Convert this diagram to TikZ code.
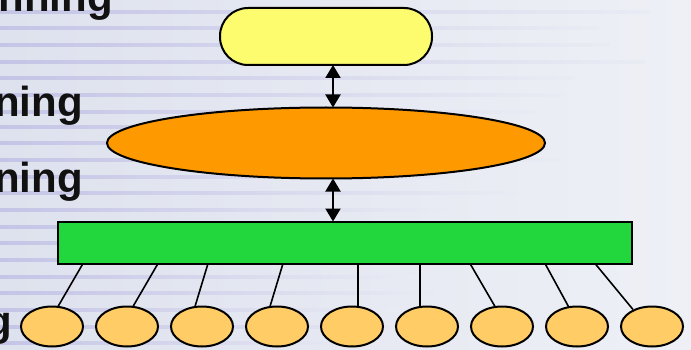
\documentclass[tikz,border=0pt]{standalone}
\usepackage{fontspec}
\setmainfont{Liberation Sans}
\usetikzlibrary{arrows.meta}
\definecolor{bgL}{RGB}{222,226,238}
\definecolor{bgR}{RGB}{238,240,246}
\definecolor{stripe}{RGB}{196,196,230}
\definecolor{yelfill}{RGB}{252,252,110}
\definecolor{orafill}{RGB}{255,153,0}
\definecolor{grnfill}{RGB}{34,214,61}
\definecolor{leaffill}{RGB}{255,204,102}
\definecolor{txt}{RGB}{17,17,17}
\tikzset{
  box/.style={draw=black, line width=2pt, inner sep=0pt, outer sep=0pt},
  yelbox/.style={box, fill=yelfill, rounded corners=28pt, minimum width=212pt, minimum height=57pt},
  midell/.style={box, ellipse, fill=orafill, minimum width=438pt, minimum height=71pt},
  barbox/.style={box, fill=grnfill, minimum width=574pt, minimum height=42pt},
  leaf/.style={box, ellipse, fill=leaffill, minimum width=62pt, minimum height=40pt},
  dblarrow/.style={line width=2pt, {Triangle[length=13pt,width=15pt]}-{Triangle[length=13pt,width=15pt]}},
  leg/.style={line width=1.6pt},
  lbl/.style={anchor=base east, inner sep=0pt, text=txt, font=\fontsize{42}{50}\selectfont\bfseries}
}
\usetikzlibrary{shapes.geometric}
\begin{document}
\begin{tikzpicture}[x=1pt,y=-1pt]
\useasboundingbox (0,0) rectangle (691,350);
\begin{scope}
\clip (0,0) rectangle (691,350);
\shade[left color=bgL, right color=bgR] (0,0) rectangle (691,350);
\foreach \yy/\ll in {12/650,28/600,45/610,62/645,78/575,95/565,112/540,127/520,143/500,160/560,177/480,193/520,210/460,227/500,243/430,260/470,277/420,293/450,310/400,327/430,343/380}{
  \shade[left color=stripe, right color=bgR!70!bgL] (0,\yy-1.3) rectangle (\ll,\yy+1.3);
}
\node[lbl] (t1) at (113,12) {nning};
\node[lbl] (t2) at (83,117) {ning};
\node[lbl] (t3) at (83,193) {ning};
\node[lbl] (t4) at (12,335) {g};
\end{scope}

\node[yelbox] (top) at (326,36.5) {};
\node[midell] (mid) at (326,143) {};
\node[barbox] (bar) at (345,242.5) {};
\foreach \i in {1,...,9}{
  \node[leaf] (e\i) at ({52+75*(\i-1)},326.5) {};
}

\draw[dblarrow] ([xshift=7pt]top.south) -- ([xshift=7pt]mid.north);
\draw[dblarrow] ([xshift=7pt]mid.south) -- ([xshift=-12pt]bar.north);

\draw[leg] ([xshift=-262pt]bar.south) -- ([xshift=6pt]e1.north);
\draw[leg] ([xshift=-187pt]bar.south) -- ([xshift=6pt]e2.north);
\draw[leg] ([xshift=-137pt]bar.south) -- ([xshift=-7pt]e3.north);
\draw[leg] ([xshift=-62pt]bar.south) -- ([xshift=-7pt]e4.north);
\draw[leg] ([xshift=13pt]bar.south) -- ([xshift=6pt]e5.north);
\draw[leg] ([xshift=75pt]bar.south) -- ([xshift=-7pt]e6.north);
\draw[leg] ([xshift=125pt]bar.south) -- ([xshift=-7pt]e7.north);
\draw[leg] ([xshift=200pt]bar.south) -- ([xshift=-8pt,yshift=-1pt]e8.north);
\draw[leg] ([xshift=250pt]bar.south) -- ([xshift=-19pt,yshift=-3pt]e9.north);
\end{tikzpicture}
\end{document}
